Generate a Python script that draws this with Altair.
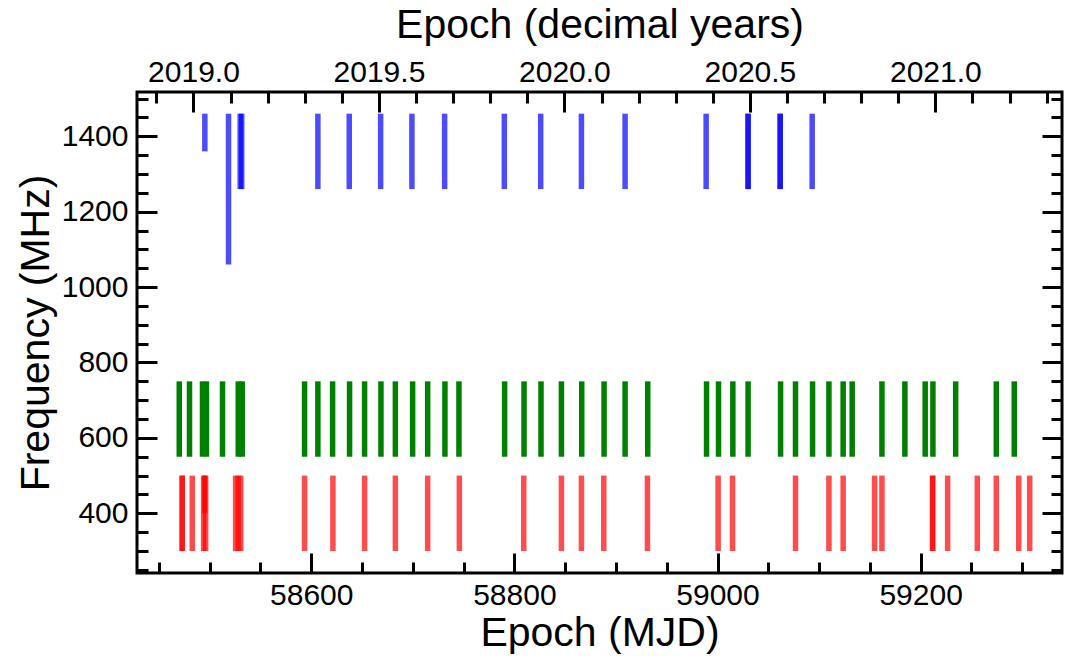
import altair as alt
import pandas as pd

# ---- data (MJD, low / high frequency in MHz) ----
red_mjd = [58472.9, 58472.9, 58482.8, 58494.0, 58496.0, 58495.0, 58525.5, 58528.0, 58530.5,
           58593.4, 58621.3, 58652.5, 58682.8, 58714.6, 58745.8, 58809.2, 58846.3, 58866.0,
           58888.0, 58931.0, 59000.6, 59014.8, 59076.8, 59109.7, 59123.7, 59154.7, 59161.9,
           59211.8, 59211.8, 59226.6, 59255.8, 59274.5, 59296.6, 59307.4]
red_lo = [300, 300, 300, 300, 300, 400, 300, 300, 300] + [300] * 25
red_hi = [500] * len(red_mjd)

green_mjd = [58470.0, 58480.1, 58492.9, 58496.8, 58512.6, 58528.1, 58532.0, 58593.4, 58606.5,
             58621.0, 58637.7, 58652.5, 58668.6, 58682.8, 58699.8, 58714.6, 58731.6, 58745.4,
             58790.4, 58809.5, 58826.2, 58846.3, 58866.3, 58888.3, 58909.0, 58931.3, 58989.2,
             59001.0, 59015.1, 59030.1, 59062.1, 59076.8, 59093.6, 59109.7, 59123.7, 59132.6,
             59161.9, 59184.5, 59204.5, 59212.1, 59234.5, 59274.5, 59292.2]
green_lo = [550] * len(green_mjd)
green_hi = [750] * len(green_mjd)

blue_mjd = [58495.2, 58518.5, 58530.0, 58531.5, 58606.5, 58637.4, 58668.3, 58699.1, 58731.3,
            58790.1, 58825.9, 58866.0, 58909.0, 58988.8, 59030.1, 59030.1, 59061.7, 59061.7,
            59093.2]
blue_lo = [1360, 1060] + [1260] * 17
blue_hi = [1460] * len(blue_mjd)

mjd_ticks = [58600, 58800, 59000, 59200]
mjd_minor = list(range(58450, 59340, 50))
year_ticks = [2019.0, 2019.5, 2020.0, 2020.5, 2021.0]
year_minor = [round(2018.9 + 0.1 * i, 1) for i in range(25)]
freq_ticks = [400, 600, 800, 1000, 1200, 1400]
freq_minor = list(range(250, 1501, 50))

band_color = {"red": "#ff0000", "green": "#008000", "blue": "#0000ff"}
band_alpha = {"red": 0.7, "green": 1.0, "blue": 0.7}

rows = []
for band, m, lo, hi in [("red", red_mjd, red_lo, red_hi),
                        ("green", green_mjd, green_lo, green_hi),
                        ("blue", blue_mjd, blue_lo, blue_hi)]:
    for a, b, c in zip(m, lo, hi):
        rows.append({"band": band, "mjd": a, "flo": b, "fhi": c,
                     "col": band_color[band], "alpha": band_alpha[band]})
df = pd.DataFrame(rows)

x_dom = [58428.4, 59339.2]
y_dom = [241.6, 1517.5]
MJD_2019 = 58484.0
yr_dom = [2019 + (x_dom[0] - MJD_2019) / 365.25, 2019 + (x_dom[1] - MJD_2019) / 365.25]

FONT = "Liberation Sans"
LBL = 30
TTL = 41

xs = alt.Scale(domain=x_dom, nice=False, zero=False)
ys = alt.Scale(domain=y_dom, nice=False, zero=False)
yrs = alt.Scale(domain=yr_dom, nice=False, zero=False)


def ax(**kw):
    base = dict(domain=False, grid=False, tickColor="black", tickWidth=3,
                labelFont=FONT, labelFontSize=LBL, labelColor="black",
                titleFont=FONT, titleFontSize=TTL, titleFontWeight="normal", titleColor="black",
                labelOverlap=False, labelFlush=False, labelBound=False)
    base.update(kw)
    return alt.Axis(**base)


base = alt.Chart(df)

bars = base.mark_rule(strokeWidth=5.5, strokeCap="butt").encode(
    x=alt.X("mjd:Q", scale=xs,
            axis=ax(orient="bottom", values=mjd_ticks, format="d", tickSize=20, offset=-20,
                    labelPadding=7, title="Epoch (MJD)", titlePadding=3)),
    y=alt.Y("flo:Q", scale=ys,
            axis=ax(orient="left", values=freq_ticks, format="d", tickSize=20, offset=-20,
                    labelPadding=9, title="Frequency (MHz)", titlePadding=4)),
    y2="fhi:Q",
    color=alt.Color("col:N", scale=None, legend=None),
    opacity=alt.Opacity("alpha:Q", scale=None, legend=None),
)

minor_bl = base.mark_point(opacity=0).encode(
    x=alt.X("mjd:Q", scale=xs,
            axis=ax(orient="bottom", values=mjd_minor, tickSize=11, offset=-11,
                    labels=False, title=None)),
    y=alt.Y("flo:Q", scale=ys,
            axis=ax(orient="left", values=freq_minor, tickSize=11, offset=-11,
                    labels=False, title=None)),
)

top_major = base.transform_calculate(
    yr="2019 + (datum.mjd - 58484) / 365.25"
).mark_point(opacity=0).encode(
    x=alt.X("yr:Q", scale=yrs,
            axis=ax(orient="top", values=year_ticks, format=".1f", tickSize=20, offset=-20,
                    labelPadding=5, title="Epoch (decimal years)", titlePadding=11)),
    y=alt.Y("flo:Q", scale=ys,
            axis=ax(orient="right", values=freq_ticks, tickSize=20, offset=-20,
                    labels=False, title=None)),
)

top_minor = base.transform_calculate(
    yr="2019 + (datum.mjd - 58484) / 365.25"
).mark_point(opacity=0).encode(
    x=alt.X("yr:Q", scale=yrs,
            axis=ax(orient="top", values=year_minor, tickSize=11, offset=-11,
                    labels=False, title=None)),
    y=alt.Y("flo:Q", scale=ys,
            axis=ax(orient="right", values=freq_minor, tickSize=11, offset=-11,
                    labels=False, title=None)),
)

chart = alt.layer(bars, minor_bl, top_major, top_minor).resolve_scale(
    x="independent", y="independent"
).properties(
    width=925, height=481,
    autosize=alt.AutoSizeParams(type="none"),
    padding={"left": 137, "top": 92, "right": 4, "bottom": 83},
    background="white",
).configure_view(stroke="black", strokeWidth=3)

chart.save("out.html", embed_options={"renderer": "svg", "actions": False})
